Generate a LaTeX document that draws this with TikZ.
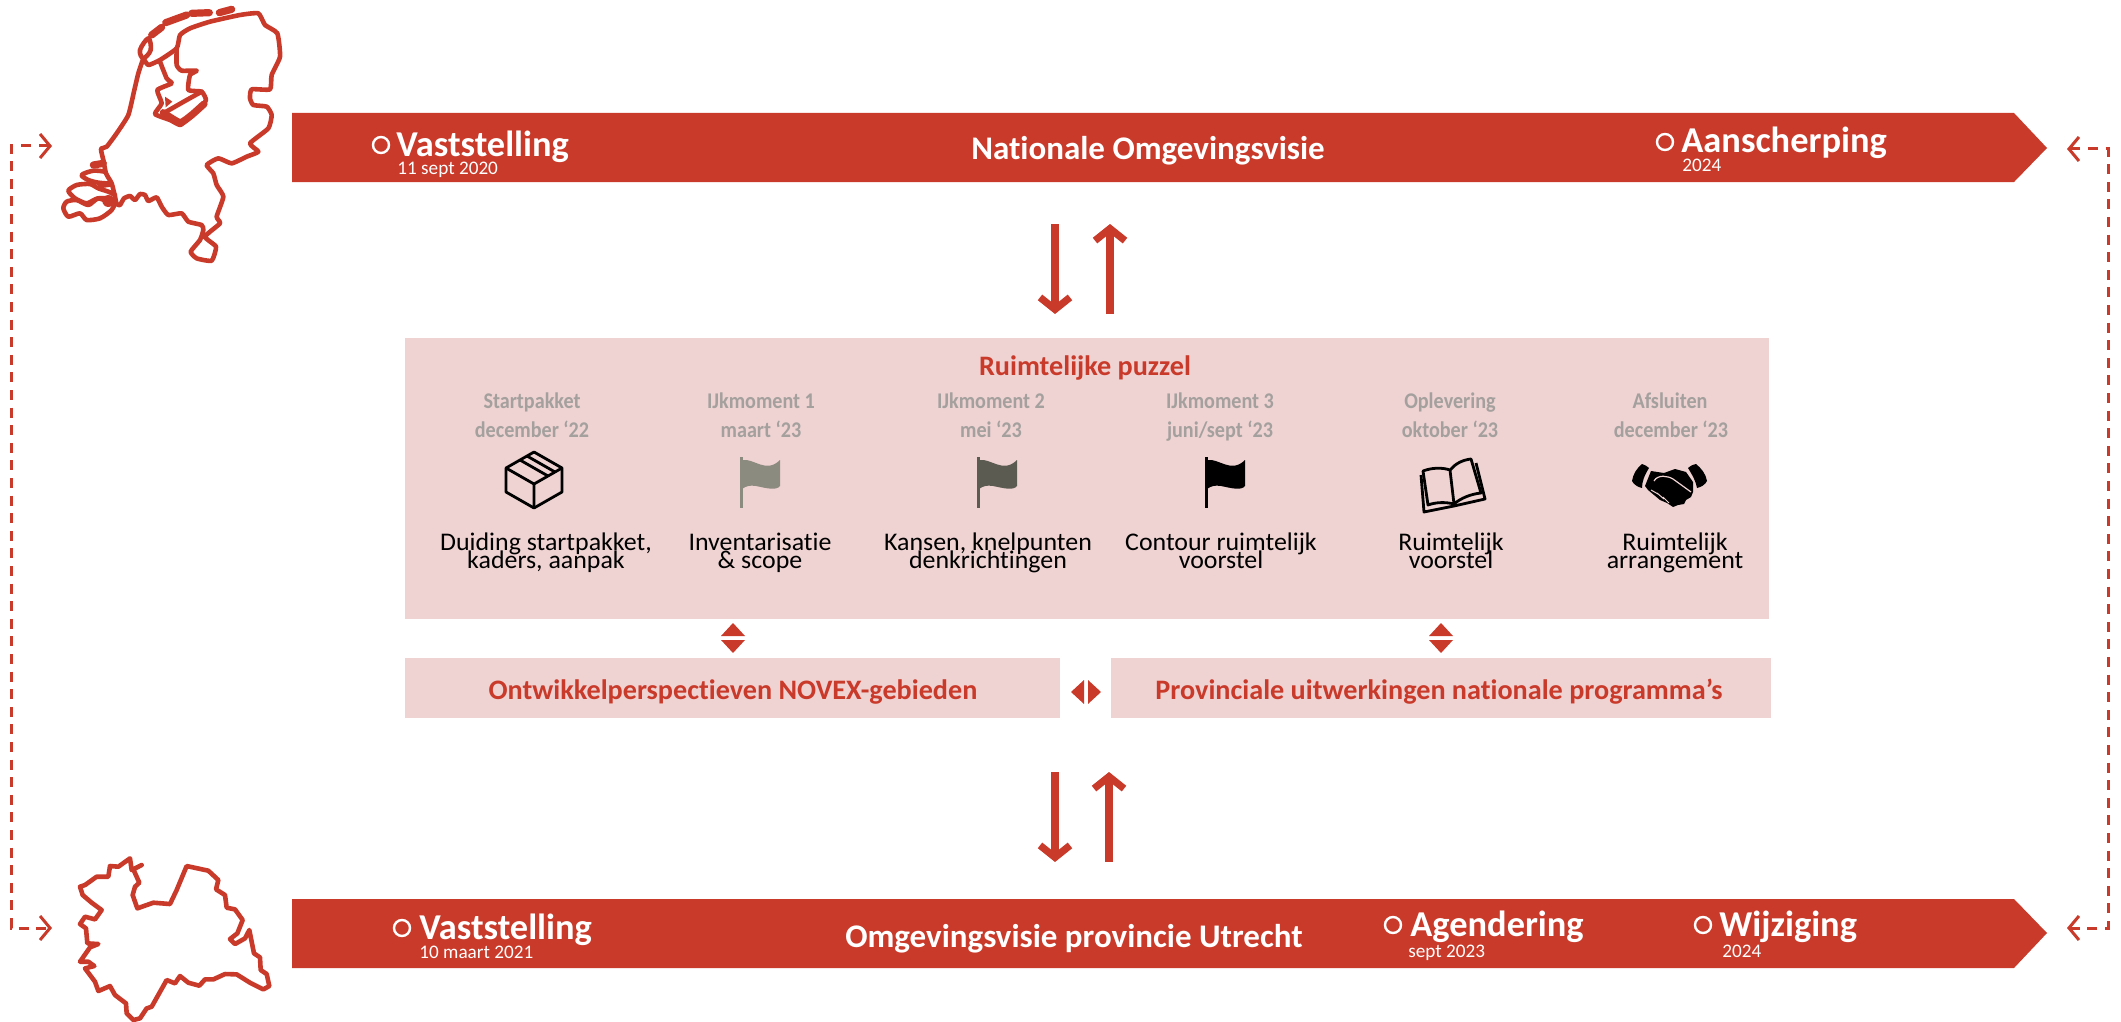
\documentclass[tikz,border=0pt]{standalone}
\usepackage{fontspec}
\setmainfont{Carlito}[Ligatures=NoCommon]
\newfontfamily\condf{Carlito}[FakeStretch=0.9,Ligatures=NoCommon]
\newfontfamily\widef{Carlito}[FakeStretch=1.02,Ligatures=NoCommon]
\usetikzlibrary{arrows.meta}
\definecolor{nred}{HTML}{C93A2A}
\definecolor{npink}{HTML}{EFD2D2}
\definecolor{ngray}{HTML}{A3A09D}
\definecolor{flagA}{HTML}{8C8B80}
\definecolor{flagB}{HTML}{5C5B52}
\tikzset{
  x=0.5pt,y=-0.5pt,
  barshape/.style={fill=nred,draw=none},
  panel/.style={fill=npink,draw=none},
  maptrace/.style={draw=nred,line width=2.3pt,line join=round,line cap=round},
  mapthick/.style={draw=nred,line width=3.6pt,line join=round,line cap=round},
  bigw/.style={text=white,font=\fontsize{18.2}{20}\selectfont\bfseries,inner sep=0pt,anchor=base west},
  midw/.style={text=white,font=\fontsize{16.5}{18}\selectfont\bfseries,inner sep=0pt,anchor=base},
  smallw/.style={text=white,font=\fontsize{9.6}{11}\selectfont,inner sep=0pt,anchor=base west},
  mile/.style={circle,draw=white,line width=1.2pt,fill=nred,minimum size=8pt,inner sep=0pt},
  redlabel/.style={text=nred,font=\fontsize{14.1}{16}\selectfont\bfseries,inner sep=0pt,anchor=base},
  graylabel/.style={text=ngray,font=\condf\fontsize{11.2}{13}\selectfont\bfseries,inner sep=0pt,anchor=base},
  blacklabel/.style={text=black,font=\widef\fontsize{12.7}{14}\selectfont,inner sep=0pt,anchor=base},
  flow/.style={draw=nred,line width=3.6pt,-{Straight Barb[length=6pt,width=15pt]}},
  loopline/.style={draw=nred,line width=1.5pt,dash pattern=on 5pt off 3.8pt,{Straight Barb[length=5pt,width=12pt]}-{Straight Barb[length=5pt,width=12pt]}},
  iconline/.style={draw=black,line width=1.4pt,line join=round},
  zoomed/.style={x=0.16667pt,y=-0.16667pt},
}
\newcommand{\flagicon}[2]{%
  \fill[#2] (#1,457) rectangle ++(3,51);
  \fill[#2] (#1+2,460) .. controls (#1+14,458) and (#1+26,474) .. (#1+40,460) -- (#1+40,486)
     .. controls (#1+36,491) and (#1+26,488) .. (#1+16,486) .. controls (#1+10,485) and (#1+6,486) .. (#1+2,489) -- cycle;}
\newcommand{\blackpair}[4]{%
  \node[blacklabel] (#1a) at (#2,550) {#3};
  \node[blacklabel] (#1b) at (#2,568) {#4};}
\begin{document}
\begin{tikzpicture}
\useasboundingbox (0,0) rectangle (2121,1022);
% panels
\fill[panel] (405,338) rectangle (1769,619);
\fill[panel] (405,658) rectangle (1060,718);
\fill[panel] (1111,658) rectangle (1771,718);
% bars
\fill[barshape] (292,113) -- (2014,113) -- (2047,148) -- (2014,182) -- (292,182) -- cycle;
\fill[barshape] (292,899) -- (2014,899) -- (2047,933) -- (2014,968) -- (292,968) -- cycle;
% top bar text
\node[mile] (m1) at (381,145) {};
\node[bigw] (t1) at (396,156) {Vaststelling};
\node[smallw] (t1b) at (397,175) {11 sept 2020};
\node[midw] (t2) at (1148,160) {Nationale Omgevingsvisie};
\node[mile] (m2) at (1665,142) {};
\node[bigw] (t3) at (1681,153) {Aanscherping};
\node[smallw] (t3b) at (1682,171) {2024};
% bottom bar text
\node[mile] (m3) at (402,928) {};
\node[bigw] (b1) at (419,939) {Vaststelling};
\node[smallw] (b1b) at (419,958) {10 maart 2021};
\node[midw] (b2) at (1074,947) {Omgevingsvisie provincie Utrecht};
\node[mile] (m4) at (1393,925) {};
\node[bigw] (b3) at (1410,936) {Agendering};
\node[smallw] (b3b) at (1408,957) {sept 2023};
\node[mile] (m5) at (1703,925) {};
\node[bigw] (b4) at (1719,936) {Wijziging};
\node[smallw] (b4b) at (1722,957) {2024};
% panel headings
\node[redlabel] (h0) at (1085,375) {Ruimtelijke puzzel};
\node[redlabel] (h1) at (733,699) {Ontwikkelperspectieven NOVEX-gebieden};
\node[redlabel] (h2) at (1439,699) {Provinciale uitwerkingen nationale programma’s};
% columns
\node[graylabel] (g1a) at (532,408) {Startpakket};
\node[graylabel] (g1b) at (532,437) {december ‘22};
\node[graylabel] (g2a) at (761,408) {IJkmoment 1};
\node[graylabel] (g2b) at (761,437) {maart ‘23};
\node[graylabel] (g3a) at (991,408) {IJkmoment 2};
\node[graylabel] (g3b) at (991,437) {mei ‘23};
\node[graylabel] (g4a) at (1220,408) {IJkmoment 3};
\node[graylabel] (g4b) at (1220,437) {juni/sept ‘23};
\node[graylabel] (g5a) at (1450,408) {Oplevering};
\node[graylabel] (g5b) at (1450,437) {oktober ‘23};
\node[graylabel] (g6a) at (1670,408) {Afsluiten};
\node[graylabel] (g6b) at (1671,437) {december ‘23};
\blackpair{k1}{546}{Duiding startpakket,}{kaders, aanpak}
\blackpair{k2}{760}{Inventarisatie}{\& scope}
\blackpair{k3}{988}{Kansen, knelpunten}{denkrichtingen}
\blackpair{k4}{1221}{Contour ruimtelijk}{voorstel}
\blackpair{k5}{1451}{Ruimtelijk}{voorstel}
\blackpair{k6}{1675}{Ruimtelijk}{arrangement}
% box icon
\draw[iconline] (534,452) -- (562,468) -- (562,492) -- (534,508) -- (506,492) -- (506,468) -- cycle;
\draw[iconline] (506,468) -- (534,484) -- (562,468) (534,484) -- (534,508);
\draw[iconline] (520,460) -- (548,476) (527,456) -- (555,472);
% flags
\flagicon{740}{flagA}
\flagicon{977}{flagB}
\flagicon{1205}{black}
% book icon
\draw[iconline] (1450,470) .. controls (1441,467) and (1431,468) .. (1423,471) -- (1428,505) .. controls (1436,502) and (1446,502) .. (1454,504)
  .. controls (1461,498) and (1471,494) .. (1481,493) -- (1471,459) .. controls (1462,460) and (1455,464) .. (1450,470) -- (1454,504);
\draw[iconline] (1421,475) -- (1424,512) -- (1454,506) -- (1485,499) -- (1476,463);
% handshake icon
\fill (1642,464) .. controls (1645,465) and (1647,466) .. (1649,468) .. controls (1644,476) and (1642,482) .. (1642,488) .. controls (1638,487) and (1634,485) .. (1632,481) .. controls (1633,474) and (1637,468) .. (1642,464) -- cycle;
\fill (1696,464) .. controls (1692,465) and (1690,466) .. (1688,468) .. controls (1693,476) and (1696,482) .. (1697,488) .. controls (1701,487) and (1705,485) .. (1707,481) .. controls (1706,474) and (1701,468) .. (1696,464) -- cycle;
\fill (1651,471) -- (1664,473) -- (1675,469) -- (1686,472) -- (1693,482) -- (1693,492) -- (1691,497) -- (1686,500) -- (1684,504) -- (1678,505) -- (1673,507) -- (1667,503) -- (1660,500) -- (1654,495) -- (1648,490) -- (1645,486) -- cycle;
\draw[npink,line width=0.6pt] (1654,481) .. controls (1658,474) and (1668,476) .. (1673,479) -- (1691,492);
\draw[npink,line width=0.5pt] (1651,490) -- (1658,494) (1657,493) -- (1664,499) (1663,497) -- (1669,503);
% diamonds
\fill[nred] (733,623) -- (745,636) -- (721,636) -- cycle (733,653) -- (745,640) -- (721,640) -- cycle;
\fill[nred] (1441,623) -- (1453,636) -- (1429,636) -- cycle (1441,653) -- (1453,640) -- (1429,640) -- cycle;
\fill[nred] (1071,692) -- (1084,680) -- (1084,704) -- cycle (1101,692) -- (1088,680) -- (1088,704) -- cycle;
% flow arrows
\coordinate (ua) at (1055,224); \coordinate (ub) at (1055,314);
\coordinate (uc) at (1110,314); \coordinate (ud) at (1110,224);
\coordinate (la) at (1055,772); \coordinate (lb) at (1055,862);
\coordinate (lc) at (1109,862); \coordinate (ld) at (1109,772);
\draw[flow] (ua) -- (ub);
\draw[flow] (uc) -- (ud);
\draw[flow] (la) -- (lb);
\draw[flow] (lc) -- (ld);
% feedback loops
\coordinate (ls) at (52,146); \coordinate (le) at (52,928);
\coordinate (rs) at (2067,149); \coordinate (re) at (2067,928);
\draw[loopline] (ls) -- (11,146) -- (11,928) -- (le);
\draw[loopline] (rs) -- (2108,149) -- (2108,928) -- (re);
% Netherlands outline (traced in 3x crop coordinates)
\begin{scope}[zoomed]
\draw[maptrace] plot[smooth,tension=0.3] coordinates {(430,175) (415,220) (403,270) (385,345) (350,400) (320,440) (303,447) (310,480) (318,520) (335,550) (345,590) (350,612) (360,615) (372,595) (390,588) (405,600) (420,582) (435,585) (445,603) (470,592) (485,620) (505,645) (545,640) (565,665) (605,675) (610,690) (600,720) (572,755) (590,775) (635,782) (648,740) (615,710) (660,670) (650,650) (670,590) (650,555) (640,520) (620,495) (655,475) (695,490) (740,470) (775,455) (750,430) (805,385) (815,345) (800,320) (760,315) (750,295) (755,268) (810,268) (815,225) (840,170) (832,100) (795,75) (775,40) (720,45) (630,65) (570,85) (540,105) (530,145) (480,180) (445,195) (430,175)};
\draw[maptrace] plot[smooth,tension=0.3] coordinates {(530,145) (530,195) (545,212) (590,212) (570,225) (565,270) (605,275) (618,300) (600,325) (560,360) (540,375) (510,360) (465,342) (485,310) (472,270) (515,250) (500,235) (480,185)};
\draw[maptrace] plot[smooth,tension=0.3] coordinates {(490,340) (560,300) (605,275)};
\draw[mapthick] plot[smooth,tension=0.3] coordinates {(490,338) (540,368) (575,345) (612,312)};
\fill[nred] (495,290) -- (517,305) -- (497,322) -- cycle;
\draw[maptrace] plot[smooth cycle,tension=0.6] coordinates {(445,115) (420,150) (430,175) (452,150)};
\draw[mapthick] (455,105) -- (485,82);
\draw[mapthick] (497,68) -- (560,45);
\draw[mapthick] (575,40) -- (628,38);
\draw[mapthick] (658,38) -- (695,28);
\draw[mapthick] (280,495) -- (310,490);
\draw[maptrace] plot[smooth,tension=0.5] coordinates {(315,515) (280,512) (245,525) (265,540) (295,548) (335,552) (300,558)};
\draw[maptrace] plot[smooth,tension=0.4] coordinates {(345,585) (325,575) (295,565) (270,552) (230,555) (205,572) (225,595) (260,610) (295,595) (335,610)};
\draw[maptrace] plot[smooth cycle,tension=0.4] coordinates {(190,625) (200,605) (230,600) (265,615) (295,595) (345,600) (335,630) (300,655) (260,660) (240,640) (205,650)};
\fill[nred] (325,603) circle [radius=18];
% Utrecht outline
\begin{scope}[yshift=-2490*0.16667pt]
\draw[maptrace] plot coordinates {(240,170) (255,165) (290,140) (325,140) (330,108) (355,110) (390,85) (395,120) (425,105) (400,118) (418,158) (405,170) (398,195) (412,235) (460,218) (510,222) (530,180) (560,108) (625,122) (655,150) (648,178) (675,195) (680,233) (705,238) (728,270) (712,310) (690,327) (705,342) (735,325) (748,300) (762,370) (780,382) (782,420) (800,432) (808,468) (790,478) (750,458) (710,433) (675,432) (640,448) (615,448) (598,467) (565,458) (540,438) (525,460) (500,450) (455,530) (440,535) (420,565) (400,570) (380,550) (378,520) (345,495) (330,468) (295,483) (285,455) (255,415) (283,408) (265,395) (240,395) (270,352) (295,342) (262,340) (258,295) (240,282) (255,260) (285,268) (305,240) (275,218) (248,195) (240,170)};
\end{scope}
\end{scope}
\end{tikzpicture}
\end{document}
